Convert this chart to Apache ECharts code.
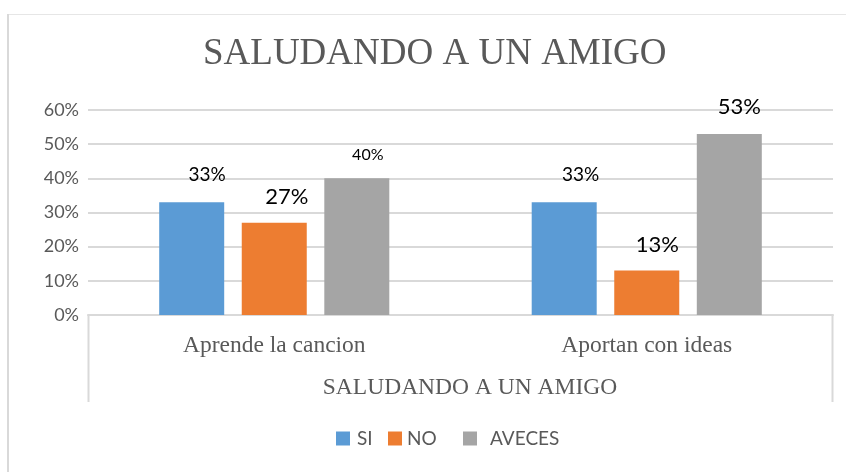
<!DOCTYPE html>
<html>
<head>
<meta charset="utf-8">
<script src="https://cdn.jsdelivr.net/npm/echarts@6/dist/echarts.min.js"></script>
<style>
html,body{margin:0;padding:0;background:#fff;}
#chart{width:846px;height:472px;}
</style>
</head>
<body>
<div id="chart"></div>
<script>
const categories = ['Aprende la cancion', 'Aportan con ideas'];
const seriesNames = ['SI', 'NO', 'AVECES'];
const siValues = [33, 33];
const noValues = [27, 13];
const avecesValues = [40, 53];
const yTicks = [0, 10, 20, 30, 40, 50, 60];

const colors = ['#5B9BD5', '#ED7D31', '#A5A5A5'];
const labelFont = 'Lato, "Open Sans", sans-serif';
const serifFont = '"Liberation Serif", "DejaVu Serif", serif';

// per-point label styling (position offsets & sizes, as in the original)
const labelStyles = {
  SI: [{fs: 19, off: [15.5, -12.6]}, {fs: 19, off: [16.5, -12.6]}],
  NO: [{fs: 22, off: [12.5, -9.7]}, {fs: 22, off: [10.5, -9.5]}],
  AVECES: [{fs: 16, off: [11, -10]}, {fs: 22, off: [10, -10.7]}]
};

function makeData(name, values) {
  return values.map((v, i) => ({
    value: v,
    label: {
      show: true,
      position: 'top',
      fontSize: labelStyles[name][i].fs,
      offset: labelStyles[name][i].off,
      color: '#000',
      fontFamily: labelFont,
      formatter: '{c}%'
    }
  }));
}

const valueSets = [siValues, noValues, avecesValues];

const chart = echarts.init(document.getElementById('chart'), null, {renderer: 'canvas'});
chart.setOption({
  animation: false,
  backgroundColor: '#fff',
  title: {
    text: 'SALUDANDO A UN AMIGO',
    left: 198,
    top: 31,
    textStyle: {fontFamily: serifFont, fontSize: 37, fontWeight: 'normal', color: '#595959'}
  },
  legend: seriesNames.map((n, i) => ({
    data: [n],
    left: [331, 383, 458][i],
    top: 424,
    itemWidth: 14,
    itemHeight: 14,
    icon: 'rect',
    selectedMode: false,
    textStyle: {
      fontFamily: labelFont, fontSize: 19, color: '#595959',
      padding: [0, 0, 0, [2, 0, 8][i]]
    }
  })),
  grid: {left: 88, right: 13, top: 110, bottom: 157, containLabel: false},
  xAxis: {
    type: 'category',
    data: categories,
    axisLine: {show: true, lineStyle: {color: '#d9d9d9', width: 2}},
    axisTick: {show: false},
    axisLabel: {fontFamily: serifFont, fontSize: 23.5, color: '#595959', margin: 19},
    name: 'SALUDANDO A UN AMIGO',
    nameLocation: 'middle',
    nameGap: 61,
    nameTextStyle: {fontFamily: serifFont, fontSize: 23.5, color: '#595959', padding: [0, 0, 0, 19]}
  },
  yAxis: {
    type: 'value',
    min: yTicks[0],
    max: yTicks[yTicks.length - 1],
    interval: 10,
    axisLine: {show: false},
    axisTick: {show: false},
    splitLine: {lineStyle: {color: '#d9d9d9', width: 2}},
    axisLabel: {formatter: '{value}%', fontFamily: labelFont, fontSize: 18, color: '#595959', margin: 9}
  },
  series: seriesNames.map((n, i) => ({
    name: n,
    type: 'bar',
    barWidth: 65,
    barGap: '27%',
    itemStyle: {color: colors[i]},
    data: makeData(n, valueSets[i])
  })),
  graphic: [
    {type: 'line', shape: {x1: 8, y1: 14.5, x2: 846, y2: 14.5}, style: {stroke: '#e6e6e6', lineWidth: 1}},
    {type: 'line', shape: {x1: 8, y1: 14, x2: 8, y2: 472}, style: {stroke: '#d9d9d9', lineWidth: 2}},
    {type: 'line', shape: {x1: 88.5, y1: 315, x2: 88.5, y2: 402}, style: {stroke: '#d9d9d9', lineWidth: 2}},
    {type: 'line', shape: {x1: 832.5, y1: 315, x2: 832.5, y2: 402}, style: {stroke: '#d9d9d9', lineWidth: 2}}
  ]
});
</script>
</body>
</html>
